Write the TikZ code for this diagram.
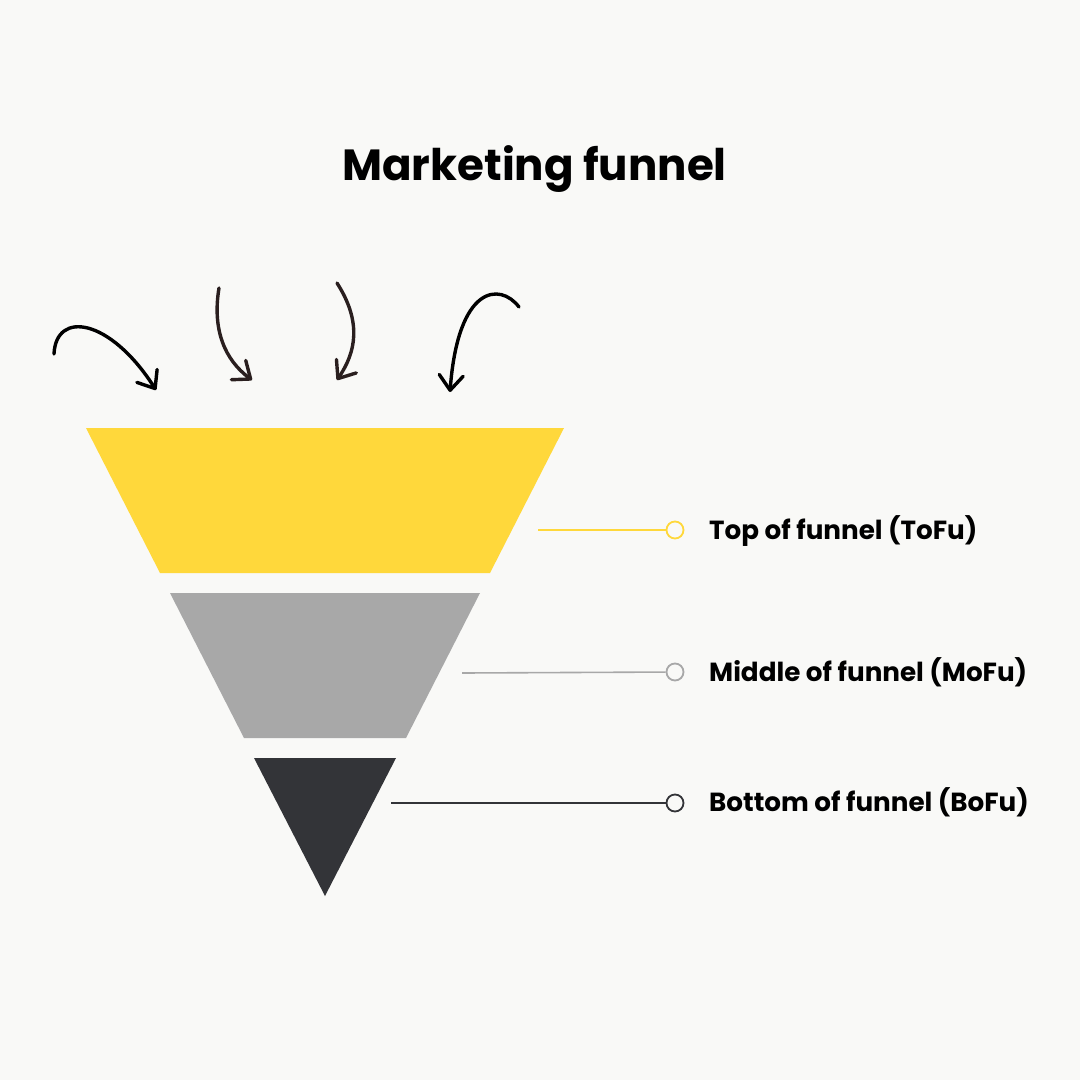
\documentclass[tikz,border=0pt]{standalone}
\usepackage{fontspec}
\setmainfont{Poppins}
\usetikzlibrary{arrows.meta}
\definecolor{bg}{HTML}{F9F9F7}
\definecolor{fyellow}{HTML}{FFD83B}
\definecolor{fgray}{HTML}{A8A8A8}
\definecolor{fdark}{HTML}{333438}
\definecolor{arrowbrown}{HTML}{2A1F1F}
\tikzset{
  sketcharrow/.style={line width=3.4pt, line cap=round, line join=round,
    -{Straight Barb[length=15pt,width=24pt,round]}},
  leader/.style={line width=1.6pt},
  dot/.style={circle, draw, line width=1.8pt, fill=bg, minimum size=17pt, inner sep=0pt},
  label/.style={anchor=base west, font=\bfseries\fontsize{26.2}{30}\selectfont, inner sep=0pt},
}
\begin{document}
\begin{tikzpicture}[x=1pt,y=-1pt]
\fill[bg] (0,0) rectangle (1080,1080);
\useasboundingbox (0,0) rectangle (1080,1080);
% title
\node[anchor=base, font=\bfseries\fontsize{43.6}{48}\selectfont, inner sep=0pt] (title) at (534.5,180.7) {Marketing funnel};
% funnel
\fill[fyellow] (86,428) -- (564,428) -- (490,573) -- (160,573) -- cycle;
\fill[fgray] (170,593) -- (480,593) -- (406,738) -- (244,738) -- cycle;
\fill[fdark] (254,758) -- (396,758) -- (325,896) -- cycle;
% arrows
\draw[sketcharrow, black] (54,354) .. controls (56,310) and (110,318) .. (156,390);
\draw[sketcharrow, arrowbrown] (219,288) .. controls (212,330) and (225,360) .. (252,380);
\draw[sketcharrow, arrowbrown] (337,283) .. controls (362,322) and (356,352) .. (337,380);
\draw[sketcharrow, black] (519,307) .. controls (500,282) and (458,285) .. (450,392);
% leaders
\coordinate (s1) at (538,530);
\coordinate (s2) at (462,673);
\coordinate (s3) at (391,803);
\node[dot, draw=fyellow] (d1) at (675,530) {};
\node[dot, draw=fgray] (d2) at (675,672) {};
\node[dot, draw=fdark] (d3) at (675,803) {};
\draw[leader, fyellow] (s1) -- (d1);
\draw[leader, fgray] (s2) -- (d2);
\draw[leader, fdark] (s3) -- (d3);
% labels
\node[label] (l1) at (709,539.3) {Top of funnel (ToFu)};
\node[label] (l2) at (709,681.7) {Middle of funnel (MoFu)};
\node[label] (l3) at (709,811.7) {Bottom of funnel (BoFu)};
\end{tikzpicture}
\end{document}
